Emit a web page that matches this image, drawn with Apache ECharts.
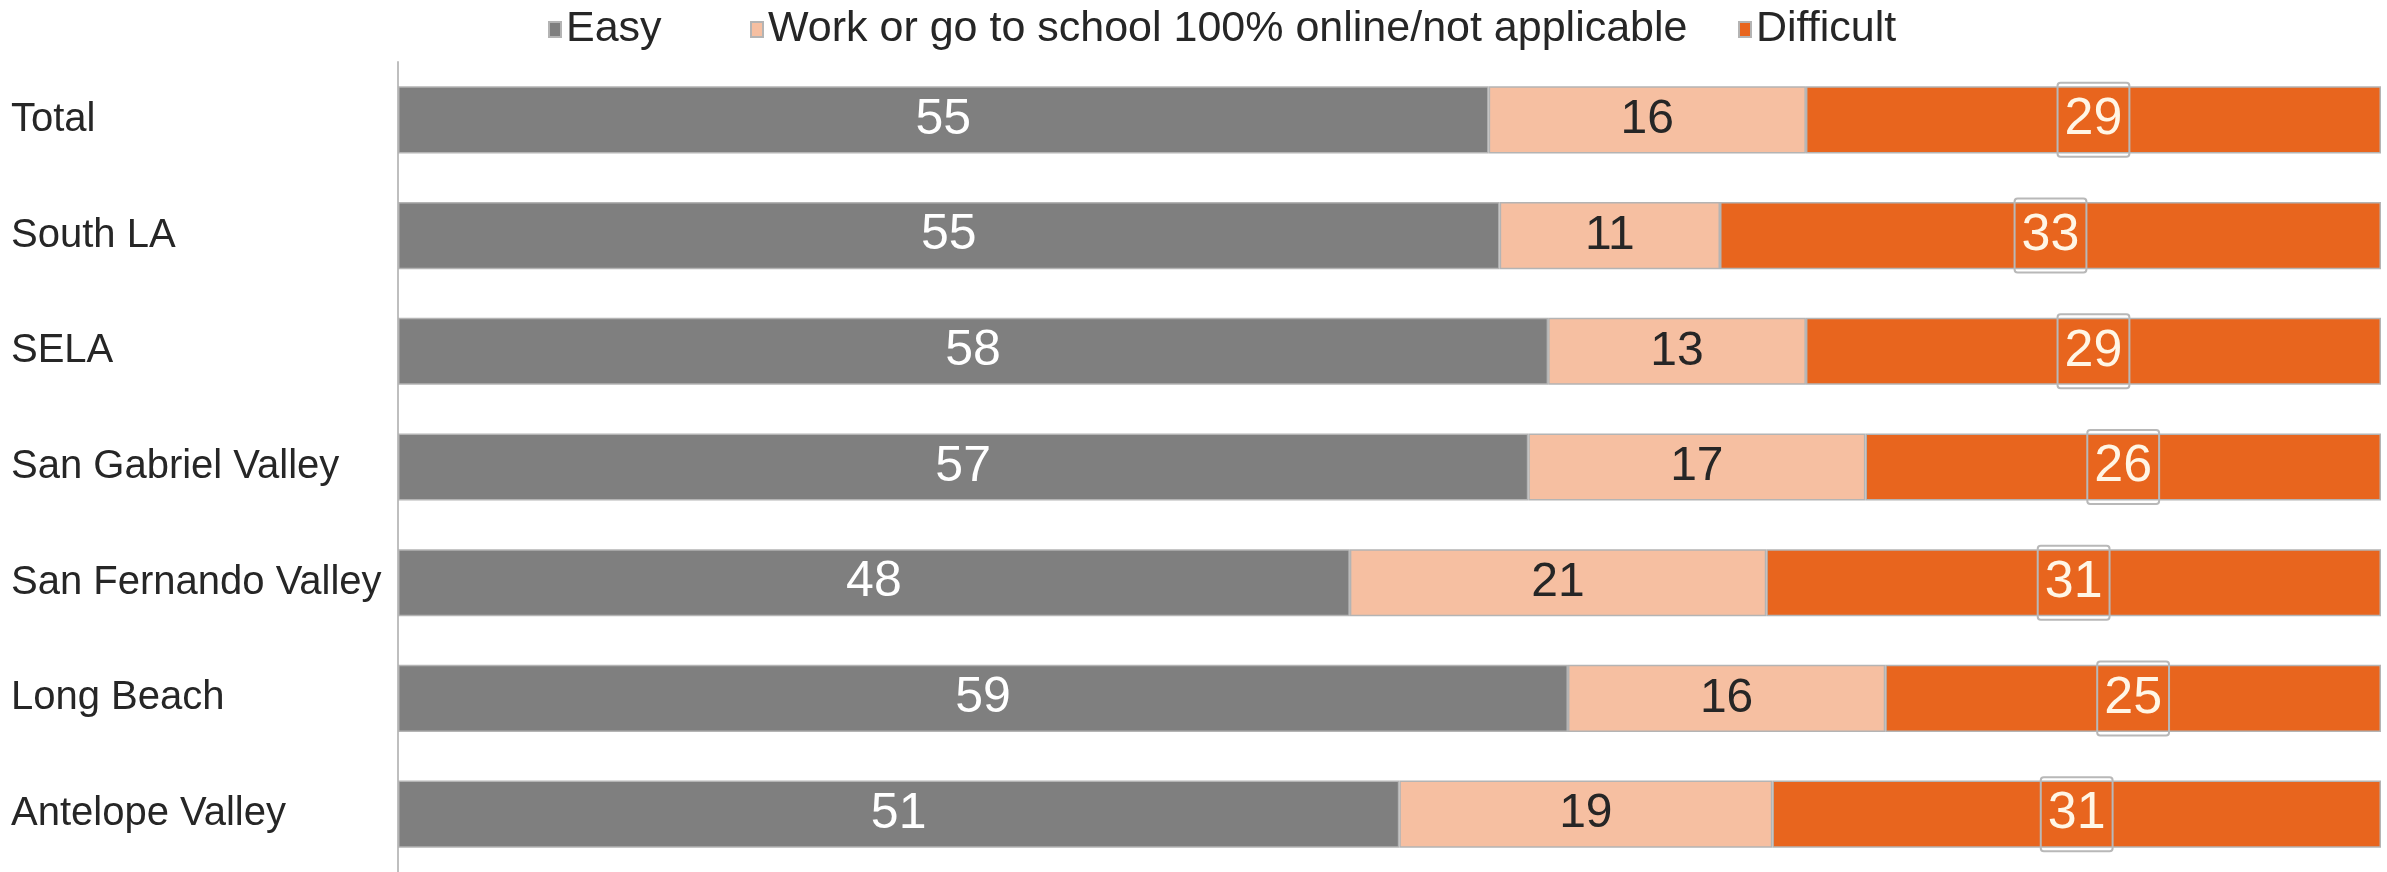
<!DOCTYPE html>
<html>
<head>
<meta charset="utf-8">
<script src="https://cdn.jsdelivr.net/npm/echarts@6/dist/echarts.min.js"></script>
<style>
  html, body { margin: 0; padding: 0; background: #fff; }
  #main { width: 2387px; height: 872px; }
</style>
</head>
<body>
<div id="main"></div>
<script>
// regions, top to bottom
var categories = ['Total', 'South LA', 'SELA', 'San Gabriel Valley', 'San Fernando Valley', 'Long Beach', 'Antelope Valley'];
var seriesNames = ['Easy', 'Work or go to school 100% online/not applicable', 'Difficult'];
// percentages as printed on the bars
var easy = [55, 55, 58, 57, 48, 59, 51];
var online = [16, 11, 13, 17, 21, 16, 19];
var difficult = [29, 33, 29, 26, 31, 25, 31];

var font = '"Liberation Sans", Arial, sans-serif';

// bars are drawn as a 100% stack, so each row is scaled to its own total
function share(arr) {
  return arr.map(function (v, i) {
    return v / (easy[i] + online[i] + difficult[i]) * 100;
  });
}

var myChart = echarts.init(document.getElementById('main'));

function makeSeries(name, raw, color, label) {
  return {
    name: name,
    type: 'bar',
    stack: 'all',
    barCategoryGap: '42%',
    data: share(raw),
    itemStyle: { color: color, borderColor: '#b4b4b4', borderWidth: 1.5 },
    label: Object.assign({
      show: true,
      position: 'inside',
      fontFamily: font,
      formatter: function (p) { return raw[p.dataIndex]; }
    }, label),
    emphasis: { disabled: true }
  };
}

// one legend per entry, the gaps in the original are uneven
function makeLegend(name, left) {
  return {
    left: left,
    top: 3,
    itemWidth: 12,
    itemHeight: 15,
    itemGap: 0,
    icon: 'rect',
    textStyle: { fontFamily: font, fontSize: 43, color: '#262626' },
    data: [name]
  };
}

var option = {
  animation: false,
  legend: [
    makeLegend(seriesNames[0], 543),
    makeLegend(seriesNames[1], 745),
    makeLegend(seriesNames[2], 1733)
  ],
  grid: { left: 398, right: 6, top: 62, height: 813 },
  xAxis: {
    type: 'value',
    min: 0,
    max: 100,
    show: false
  },
  yAxis: {
    type: 'category',
    inverse: true,
    data: categories,
    axisLine: { show: true, lineStyle: { color: '#bfbfbf', width: 2 } },
    axisTick: { show: false },
    axisLabel: {
      align: 'left',
      margin: 387,
      fontFamily: font,
      fontSize: 40,
      color: '#262626'
    }
  },
  series: [
    makeSeries(seriesNames[0], easy, '#7f7f7f', { color: '#ffffff', fontSize: 50 }),
    makeSeries(seriesNames[1], online, '#f6bfa1', { color: '#262626', fontSize: 48 }),
    makeSeries(seriesNames[2], difficult, '#e8651e', {
      color: '#fff6e6',
      fontSize: 52,
      borderColor: '#b8b8b8',
      borderWidth: 2,
      borderRadius: 3,
      padding: [14, 7, 8, 7]
    })
  ]
};

myChart.setOption(option);
</script>
</body>
</html>
